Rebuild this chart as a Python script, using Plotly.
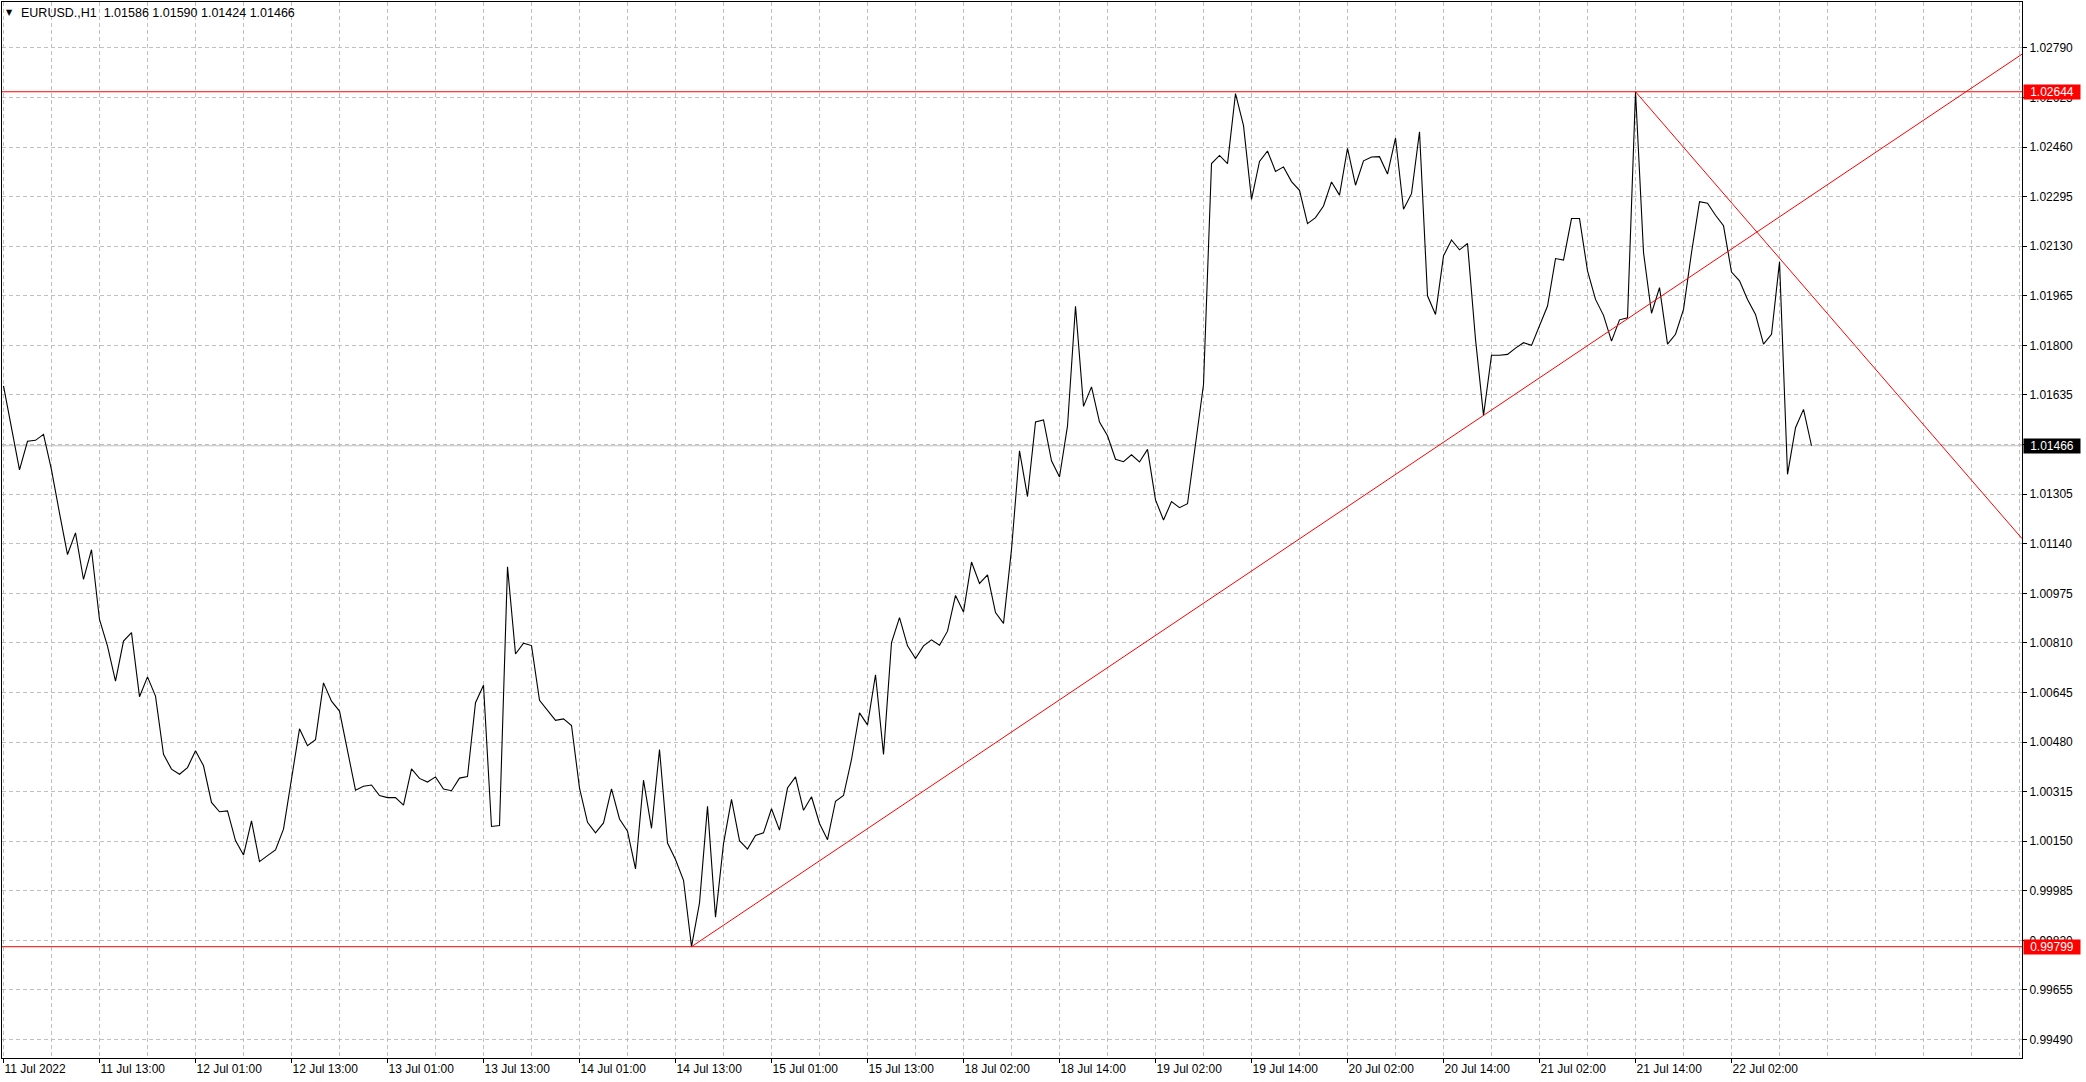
import plotly.graph_objects as go

# ---------------- data ----------------
closes = [
    1.01665, 1.01530, 1.01386, 1.01481, 1.01484, 1.01504, 1.01386, 1.01242, 1.01104, 1.01176,
    1.01021, 1.01120, 1.00888, 1.00799, 1.00683, 1.00816, 1.00844, 1.00631, 1.00697, 1.00633,
    1.00439, 1.00390, 1.00373, 1.00395, 1.00451, 1.00401, 1.00279, 1.00248, 1.00251, 1.00152,
    1.00104, 1.00218, 1.00082, 1.00102, 1.00121, 1.00190, 1.00364, 1.00524, 1.00468, 1.00488,
    1.00677, 1.00616, 1.00583, 1.00455, 1.00320, 1.00333, 1.00337, 1.00302, 1.00295, 1.00295,
    1.00270, 1.00391, 1.00359, 1.00347, 1.00364, 1.00324, 1.00318, 1.00360, 1.00365, 1.00611,
    1.00669, 1.00199, 1.00202, 1.01063, 1.00773, 1.00809, 1.00801, 1.00619, 1.00586, 1.00552,
    1.00557, 1.00535, 1.00327, 1.00213, 1.00178, 1.00211, 1.00324, 1.00224, 1.00183, 1.00058,
    1.00353, 1.00193, 1.00455, 1.00144, 1.00089, 1.00020, 0.99799, 0.99945, 1.00266, 0.99897,
    1.00142, 1.00289, 1.00152, 1.00124, 1.00169, 1.00178, 1.00258, 1.00187, 1.00327, 1.00364,
    1.00253, 1.00298, 1.00209, 1.00155, 1.00283, 1.00302, 1.00422, 1.00577, 1.00537, 1.00704,
    1.00439, 1.00811, 1.00894, 1.00800, 1.00758, 1.00800, 1.00820, 1.00802, 1.00849, 1.00968,
    1.00913, 1.01079, 1.01008, 1.01036, 1.00911, 1.00875, 1.01121, 1.01449, 1.01297, 1.01545,
    1.01552, 1.01416, 1.01362, 1.01532, 1.01930, 1.01597, 1.01662, 1.01545, 1.01499, 1.01421,
    1.01413, 1.01436, 1.01412, 1.01454, 1.01286, 1.01219, 1.01280, 1.01260, 1.01273, 1.01471,
    1.01670, 1.02405, 1.02432, 1.02405, 1.02638, 1.02531, 1.02286, 1.02412, 1.02447, 1.02379,
    1.02394, 1.02345, 1.02316, 1.02205, 1.02225, 1.02264, 1.02344, 1.02300, 1.02456, 1.02333,
    1.02414, 1.02427, 1.02428, 1.02370, 1.02490, 1.02253, 1.02305, 1.02511, 1.01965, 1.01903,
    1.02098, 1.02151, 1.02118, 1.02139, 1.01820, 1.01567, 1.01767, 1.01767, 1.01770, 1.01791,
    1.01809, 1.01800, 1.01867, 1.01931, 1.02089, 1.02084, 1.02222, 1.02222, 1.02048, 1.01953,
    1.01900, 1.01814, 1.01885, 1.01892, 1.02644, 1.02109, 1.01907, 1.01992, 1.01804, 1.01837,
    1.01920, 1.02109, 1.02278, 1.02273, 1.02233, 1.02198, 1.02044, 1.02015, 1.01953, 1.01903,
    1.01804, 1.01837, 1.02078, 1.01371, 1.01526, 1.01587, 1.01466,
]
bars = list(range(len(closes)))

time_label_bars = [0, 12, 24, 36, 48, 60, 72, 84, 96, 108, 120, 132, 144, 156, 168, 180, 192, 204, 216]
time_labels = [
    "11 Jul 2022", "11 Jul 13:00", "12 Jul 01:00", "12 Jul 13:00", "13 Jul 01:00",
    "13 Jul 13:00", "14 Jul 01:00", "14 Jul 13:00", "15 Jul 01:00", "15 Jul 13:00",
    "18 Jul 02:00", "18 Jul 14:00", "19 Jul 02:00", "19 Jul 14:00", "20 Jul 02:00",
    "20 Jul 14:00", "21 Jul 02:00", "21 Jul 14:00", "22 Jul 02:00",
]

price_ticks = [
    1.02790, 1.02625, 1.02460, 1.02295, 1.02130, 1.01965, 1.01800, 1.01635, 1.01470, 1.01305,
    1.01140, 1.00975, 1.00810, 1.00645, 1.00480, 1.00315, 1.00150, 0.99985, 0.99820, 0.99655,
    0.99490,
]

# trend lines (anchor bar, anchor price) – drawn as rays to the right
trend_up_bars = [86, 185]
trend_up_prices = [0.99799, 1.01567]
trend_down_bars = [204, 222]
trend_down_prices = [1.02644, 1.02090]

# horizontal levels
level_prices = [1.02644, 0.99799]
bid_price = 1.01466

header_text = "EURUSD.,H1\u00a0\u00a01.01586 1.01590 1.01424 1.01466"

# ---------------- figure ----------------
X_RANGE = [-0.1875, 252.31]
Y_RANGE = [0.994286, 1.029427]
FONT = "Liberation Sans, Arial, sans-serif"
GRID = "#c0c0c0"
DASH = "4px,3px"

fig = go.Figure()

fig.add_trace(go.Scatter(
    x=bars, y=closes, mode="lines",
    line=dict(color="black", width=1.1),
    hoverinfo="skip", showlegend=False,
))


def ray(bx, py, x_end):
    slope = (py[1] - py[0]) / (bx[1] - bx[0])
    return [bx[0], x_end], [py[0], py[0] + slope * (x_end - bx[0])]


for bx, py in [(trend_up_bars, trend_up_prices), (trend_down_bars, trend_down_prices)]:
    rx, ry = ray(bx, py, X_RANGE[1])
    fig.add_trace(go.Scatter(
        x=rx, y=ry, mode="lines",
        line=dict(color="#ff0000", width=1),
        hoverinfo="skip", showlegend=False,
    ))

# bid line
fig.add_shape(type="line", xref="paper", x0=0, x1=1, yref="y", y0=bid_price, y1=bid_price,
              line=dict(color="#c0c0c0", width=1), layer="between")
for lp in level_prices:
    fig.add_shape(type="line", xref="paper", x0=0, x1=1, yref="y", y0=lp, y1=lp,
                  line=dict(color="#ff0000", width=1), layer="above")

annotations = []
# price labels on the right scale
for val, bg in [(level_prices[0], "#ff0000"), (level_prices[1], "#ff0000"), (bid_price, "#000000")]:
    annotations.append(dict(
        x=1, xref="paper", xanchor="left", xshift=1,
        y=val, yref="y", yanchor="middle",
        text=f"{val:.5f}", showarrow=False,
        bgcolor=bg, font=dict(family=FONT, size=12, color="white"),
        width=56, height=14, borderpad=0, align="center",
    ))

# header
annotations.append(dict(
    x=0, xref="paper", xanchor="left", xshift=3,
    y=1, yref="paper", yanchor="middle", yshift=-10.5,
    text="\u25bc", showarrow=False, font=dict(family="DejaVu Sans", size=8, color="black"),
    borderpad=0,
))
annotations.append(dict(
    x=0, xref="paper", xanchor="left", xshift=18,
    y=1, yref="paper", yanchor="middle", yshift=-10.5,
    text=header_text, showarrow=False, font=dict(family=FONT, size=12.5, color="black"),
    borderpad=0,
))

fig.update_layout(
    width=2086, height=1082,
    margin=dict(l=2, r=64, t=2, b=24, pad=0),
    paper_bgcolor="white", plot_bgcolor="white",
    font=dict(family=FONT, size=12, color="black"),
    showlegend=False,
    annotations=annotations,
    xaxis=dict(
        range=X_RANGE, autorange=False,
        tickmode="array", tickvals=time_label_bars, ticktext=time_labels,
        ticks="outside", ticklen=4, tickcolor="black", tickwidth=1,
        ticklabelposition="outside right",
        showgrid=True, gridcolor=GRID, griddash=DASH, gridwidth=1,
        minor=dict(tickmode="linear", tick0=0, dtick=6, showgrid=True,
                   gridcolor=GRID, griddash=DASH, gridwidth=1, ticks=""),
        showline=True, linecolor="black", linewidth=1, mirror=True,
        zeroline=False, fixedrange=True,
    ),
    yaxis=dict(
        range=Y_RANGE, autorange=False, side="right",
        tickmode="array", tickvals=price_ticks,
        ticktext=[f"{v:.5f}" for v in price_ticks],
        ticks="outside", ticklen=4, tickcolor="black", tickwidth=1,
        showgrid=True, gridcolor=GRID, griddash=DASH, gridwidth=1,
        showline=True, linecolor="black", linewidth=1, mirror=True,
        zeroline=False, fixedrange=True,
    ),
)

fig.write_html(
    "out.html",
    config={"displayModeBar": False},
    post_script="document.body.style.margin='0px';document.body.style.overflow='hidden';",
)
